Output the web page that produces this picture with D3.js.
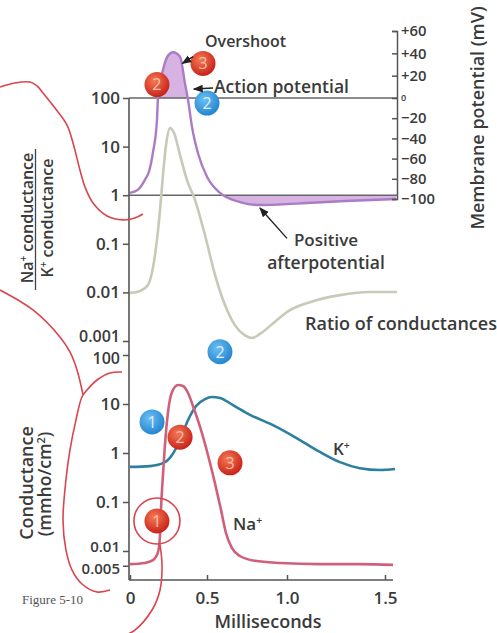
<!DOCTYPE html>
<html><head><meta charset="utf-8">
<script src="https://cdn.jsdelivr.net/npm/d3@7"></script>
<style>
html,body{margin:0;padding:0;background:#fff;}
svg{display:block;font-family:'Open Sans',sans-serif;}
</style></head><body>
<svg id="chart" width="497" height="633"></svg>
<script>
// ---------- data ----------
const xTicks = [0, 0.5, 1.0, 1.5];
const xTickLabels = ["0", "0.5", "1.0", "1.5"];
const ratioTicks = [100, 10, 1, 0.1, 0.01, 0.001];
const ratioTickLabels = ["100", "10", "1", "0.1", "0.01", "0.001"];
const condTicks = [100, 10, 1, 0.1, 0.01, 0.005];
const condTickLabels = ["100", "10", "1", "0.1", "0.01", "0.005"];
const mvTicks = [60, 40, 20, 0, -20, -40, -60, -80, -100];
const mvTickLabels = ["+60", "+40", "+20", "0", "\u221220", "\u221240", "\u221260", "\u221280", "\u2212100"];

// membrane potential (mV) vs time (ms)
const apTime = [0, 0.05, 0.097, 0.125, 0.149, 0.175, 0.182, 0.214, 0.247, 0.279, 0.325, 0.357, 0.377, 0.403, 0.442, 0.5, 0.581, 0.706, 0.831, 0.95, 1.1, 1.3, 1.556];
const apMv   = [-94, -91, -81, -72, -54, -22, 1, 25, 38, 41, 37, 13, -2, -29, -55, -78, -94, -103, -106, -105.5, -104, -102, -100];
const restingRatioLine = 1;   // baseline drawn at ratio = 1
const zeroMv = 0;

// Na+/K+ conductance ratio
const ratioTime   = [0, 0.065, 0.117, 0.149, 0.175, 0.195, 0.214, 0.234, 0.26, 0.286, 0.325, 0.37, 0.422, 0.487, 0.55, 0.6125, 0.675, 0.7375, 0.78, 0.831, 0.925, 1.015, 1.117, 1.27, 1.423, 1.561];
const ratioValues = [0.0097, 0.0107, 0.0142, 0.032, 0.12, 0.5, 2.6, 10.8, 24, 19, 6.7, 2.05, 0.8, 0.15, 0.023, 0.0055, 0.0021, 0.0013, 0.00115, 0.0014, 0.0025, 0.0043, 0.0063, 0.0088, 0.0102, 0.0102];

// K+ conductance (mmho/cm2)
const kTime   = [0, 0.13, 0.227, 0.273, 0.325, 0.377, 0.429, 0.487, 0.531, 0.581, 0.6625, 0.769, 0.9125, 1.066, 1.168, 1.27, 1.372, 1.474, 1.551];
const kValues = [0.52, 0.54, 0.65, 0.91, 1.84, 4.7, 9.1, 12.6, 13.9, 13.3, 9.5, 6.0, 3.7, 1.84, 1.05, 0.65, 0.49, 0.45, 0.47];

// Na+ conductance (mmho/cm2)
const naTime   = [0, 0.097, 0.149, 0.182, 0.195, 0.201, 0.214, 0.227, 0.247, 0.273, 0.312, 0.344, 0.377, 0.409, 0.455, 0.506, 0.55, 0.5875, 0.619, 0.656, 0.706, 0.8, 0.956, 1.168, 1.372, 1.541];
const naValues = [0.0054, 0.0057, 0.0065, 0.0095, 0.0212, 0.069, 0.356, 1.46, 6.9, 17.6, 24.4, 23.3, 16.8, 9.1, 3.4, 0.91, 0.24, 0.069, 0.023, 0.0115, 0.0079, 0.0063, 0.0057, 0.0054, 0.0054, 0.0052];

// numbered markers
const markerLabels = ["3", "2", "2", "2", "1", "2", "3", "1"];
const markerColors = ["red", "red", "blue", "blue", "blue", "red", "red", "red"];
const markerPanels = ["mv", "mv", "mv", "ratio", "cond", "cond", "cond", "cond"];
const markerTimes  = [0.474, 0.175, 0.5, 0.581, 0.143, 0.325, 0.644, 0.175];
const markerValues = [31, 12, -5, 0.0006, 4.3, 2.1, 0.63, 0.041];

// hand-drawn red annotation strokes (time in ms, value on panel scale)
const annot1Time  = [-0.844, -0.747, -0.649, -0.604, -0.565, -0.487, -0.409, -0.37, -0.325, -0.292, -0.24, -0.149, -0.045, 0.032, 0.084];
const annot1Ratio = [168, 204, 213, 177, 127, 62, 27.8, 11.9, 3.3, 1.47, 0.69, 0.373, 0.31, 0.34, 0.41];
const annot2Time  = [-0.844, -0.63, -0.455, -0.39, -0.344, -0.305];
const annot2Ratio = [0.0112, 0.00435, 0.00121, 0.000594, 0.000253, 0.0000776];
const loopTime = [-0.052, -0.13, -0.214, -0.279, -0.312, -0.351, -0.39, -0.416, -0.435, -0.416, -0.377, -0.312, -0.214, -0.13];
const loopCond = [45, 43, 30.9, 19.3, 13.9, 4.7, 1.15, 0.281, 0.043, 0.0105, 0.0041, 0.00212, 0.00146, 0.0016];
const tailTime = [0.195, 0.208, 0.195, 0.143, 0.032, -0.045];
const tailCond = [0.0133, 0.00518, 0.0016, 0.000625, 0.000244, 0.000184];

// ---------- scales ----------
const svg = d3.select("#chart");
const x = d3.scaleLinear().domain([0, 0.5, 1.0, 1.5]).range([130, 207, 287, 385]);
const yRatio = d3.scaleLog().domain([0.001, 100]).range([341, 98]);
const yCond = d3.scaleLog().domain([0.01, 100]).range([551, 355]);
const yMv = d3.scaleLinear().domain([-100, 0, 60]).range([199, 98, 31]);
const scaleFor = {mv: yMv, ratio: yRatio, cond: yCond};

const TXT = "#3a3a3a";
const AX = "#555";
const baseY = yRatio(restingRatioLine);
const zeroY = yMv(zeroMv);

const defs = svg.append("defs");
defs.append("clipPath").attr("id", "clipAbove").append("rect")
  .attr("x", 0).attr("y", 0).attr("width", 497).attr("height", zeroY);
defs.append("clipPath").attr("id", "clipBelow").append("rect")
  .attr("x", 0).attr("y", baseY).attr("width", 497).attr("height", 100);
const gr = defs.append("radialGradient").attr("id", "gRed").attr("cx", "40%").attr("cy", "35%").attr("r", "65%");
gr.append("stop").attr("offset", "0%").attr("stop-color", "#f57a55");
gr.append("stop").attr("offset", "100%").attr("stop-color", "#c9231a");
const gb = defs.append("radialGradient").attr("id", "gBlue").attr("cx", "40%").attr("cy", "35%").attr("r", "65%");
gb.append("stop").attr("offset", "0%").attr("stop-color", "#6cc0f2");
gb.append("stop").attr("offset", "100%").attr("stop-color", "#2585d2");

// ---------- membrane potential fills ----------
const apData = apTime.map((t, i) => ({t, v: apMv[i]}));
const curve = d3.curveMonotoneX;
svg.append("path").datum(apData)
  .attr("clip-path", "url(#clipAbove)")
  .attr("fill", "#d7b3e4")
  .attr("d", d3.area().curve(curve).x(d => x(d.t)).y0(zeroY).y1(d => yMv(d.v)));
svg.append("path").datum(apData)
  .attr("clip-path", "url(#clipBelow)")
  .attr("fill", "#d7b3e4")
  .attr("d", d3.area().curve(curve).x(d => x(d.t)).y0(baseY).y1(d => yMv(d.v)));

// horizontal reference lines
svg.append("line").attr("x1", 129).attr("x2", 397).attr("y1", zeroY).attr("y2", zeroY)
  .attr("stroke", "#666").attr("stroke-width", 1.6);
svg.append("line").attr("x1", 129).attr("x2", 397).attr("y1", baseY).attr("y2", baseY)
  .attr("stroke", "#666").attr("stroke-width", 1.6);

// ratio curve
svg.append("path").datum(ratioTime.map((t, i) => ({t, v: ratioValues[i]})))
  .attr("fill", "none").attr("stroke", "#c6cab6").attr("stroke-width", 2.6)
  .attr("d", d3.line().curve(curve).x(d => x(d.t)).y(d => yRatio(d.v)));

// membrane potential curve
svg.append("path").datum(apData)
  .attr("fill", "none").attr("stroke", "#ab7bc4").attr("stroke-width", 2.4)
  .attr("d", d3.line().curve(curve).x(d => x(d.t)).y(d => yMv(d.v)));

// K+ and Na+ conductances
svg.append("path").datum(kTime.map((t, i) => ({t, v: kValues[i]})))
  .attr("fill", "none").attr("stroke", "#2c7f9e").attr("stroke-width", 2.6)
  .attr("d", d3.line().curve(curve).x(d => x(d.t)).y(d => yCond(d.v)));
svg.append("path").datum(naTime.map((t, i) => ({t, v: naValues[i]})))
  .attr("fill", "none").attr("stroke", "#d06079").attr("stroke-width", 2.6)
  .attr("d", d3.line().curve(curve).x(d => x(d.t)).y(d => yCond(d.v)));

// ---------- axes ----------
function styleAxis(g, fs) {
  g.selectAll(".tick line").attr("stroke", AX).attr("stroke-width", 1.5);
  g.selectAll(".tick text").attr("fill", TXT).attr("font-size", fs).attr("font-weight", 600)
    .attr("font-family", "'Open Sans',sans-serif");
}
const gRatio = svg.append("g").attr("transform", "translate(129,0)")
  .call(d3.axisLeft(yRatio).tickValues(ratioTicks).tickFormat((d, i) => ratioTickLabels[i]).tickSize(6).tickPadding(3));
gRatio.select(".domain").remove();
styleAxis(gRatio, 17);
gRatio.selectAll(".tick text").filter(d => d === 0.001).attr("dy", "0.02em").attr("font-size", 16);

const gCond = svg.append("g").attr("transform", "translate(129,0)")
  .call(d3.axisLeft(yCond).tickValues(condTicks).tickFormat((d, i) => condTickLabels[i]).tickSize(6).tickPadding(3));
gCond.select(".domain").remove();
styleAxis(gCond, 17);
gCond.selectAll(".tick text").filter(d => d === 100).attr("dy", "0.5em").attr("font-size", 16);
gCond.selectAll(".tick text").filter(d => d === 0.01).attr("dy", "0.05em").attr("font-size", 15);
gCond.selectAll(".tick text").filter(d => d === 0.005).attr("dy", "0.5em").attr("font-size", 15);

svg.append("line").attr("x1", 129).attr("x2", 129).attr("y1", yRatio(100)).attr("y2", 580)
  .attr("stroke", AX).attr("stroke-width", 1.6);

const gX = svg.append("g").attr("transform", "translate(0,580)")
  .call(d3.axisBottom(x).tickValues(xTicks).tickFormat((d, i) => xTickLabels[i]).tickSizeInner(-5).tickSizeOuter(0).tickPadding(12));
gX.select(".domain").remove();
styleAxis(gX, 17);
svg.append("line").attr("x1", 129).attr("x2", 393).attr("y1", 580).attr("y2", 580)
  .attr("stroke", AX).attr("stroke-width", 1.6);

const gMv = svg.append("g").attr("transform", "translate(397,0)")
  .call(d3.axisRight(yMv).tickValues(mvTicks).tickFormat((d, i) => mvTickLabels[i]).tickSizeInner(-5).tickSizeOuter(-5).tickPadding(4));
gMv.select(".domain").attr("stroke", AX).attr("stroke-width", 1.5).attr("fill", "none");
styleAxis(gMv, 14.8);
gMv.selectAll(".tick text").filter(d => d === 0).attr("font-size", 9);

// ---------- red hand annotations ----------
const redInk = "#d8454f";
function stroke(ts, vs, sc) {
  svg.append("path").datum(ts.map((t, i) => ({t, v: vs[i]})))
    .attr("fill", "none").attr("stroke", redInk).attr("stroke-width", 1.6)
    .attr("d", d3.line().curve(d3.curveCatmullRom).x(d => x(d.t)).y(d => sc(d.v)));
}
stroke(annot1Time, annot1Ratio, yRatio);
stroke(annot2Time, annot2Ratio, yRatio);
stroke(loopTime, loopCond, yCond);
stroke(tailTime, tailCond, yCond);

// ---------- markers ----------
markerLabels.forEach((lab, i) => {
  const cx = x(markerTimes[i]), cy = scaleFor[markerPanels[i]](markerValues[i]);
  const isRed = markerColors[i] === "red";
  svg.append("circle").attr("cx", cx).attr("cy", cy).attr("r", 12.5)
    .attr("fill", isRed ? "url(#gRed)" : "url(#gBlue)");
  svg.append("text").attr("x", cx).attr("y", cy).attr("dy", "0.36em").attr("text-anchor", "middle")
    .attr("font-size", 16).attr("fill", isRed ? "#f7c2a8" : "#dff0fb").text(lab);
});
// ring around red marker 1
svg.append("circle").attr("cx", x(markerTimes[7])).attr("cy", yCond(markerValues[7])).attr("r", 23)
  .attr("fill", "none").attr("stroke", redInk).attr("stroke-width", 1.6);

// ---------- arrows ----------
defs.append("marker").attr("id", "arr").attr("viewBox", "0 0 10 10").attr("refX", 9).attr("refY", 5)
  .attr("markerWidth", 7).attr("markerHeight", 7).attr("orient", "auto")
  .append("path").attr("d", "M0,1 L10,5 L0,9 Z").attr("fill", "#222");
function arrow(t1, v1, t2, v2) {
  svg.append("line").attr("x1", x(t1)).attr("y1", yMv(v1)).attr("x2", x(t2)).attr("y2", yMv(v2))
    .attr("stroke", "#222").attr("stroke-width", 1.4).attr("marker-end", "url(#arr)");
}
arrow(0.41, 37, 0.34, 31);
arrow(0.5375, 9, 0.415, 8);
arrow(1.0, -139, 0.831, -109);

// ---------- texts ----------
function label(txt, xx, yy, fs, opts = {}) {
  const t = svg.append("text").attr("x", xx).attr("y", yy).attr("font-size", fs)
    .attr("font-weight", opts.weight || 600).attr("fill", opts.fill || TXT)
    .attr("text-anchor", opts.anchor || "start");
  if (opts.family) t.attr("font-family", opts.family);
  t.text(txt);
  return t;
}
label("Overshoot", 205, 47, 16);
label("Action potential", 214, 93, 17.5);
label("Positive", 326, 246, 17, {anchor: "middle"});
label("afterpotential", 326, 269, 17.5, {anchor: "middle"});
label("Ratio of conductances", 305, 330, 18);
label("Milliseconds", 268, 628, 18, {anchor: "middle"});
label("Figure 5-10", 22, 604, 13, {weight: 400, fill: "#555", family: "'Liberation Serif',serif"});

function supText(parts, xx, yy, fs, rotate, anchor) {
  const t = svg.append("text").attr("font-size", fs).attr("font-weight", 600).attr("fill", TXT)
    .attr("text-anchor", anchor || "start")
    .attr("transform", `translate(${xx},${yy})` + (rotate ? ` rotate(${rotate})` : ""));
  parts.forEach(p => {
    const s = t.append("tspan").text(p.t);
    if (p.sup) s.attr("dy", -6).attr("font-size", fs * 0.62);
    if (p.after) s.attr("dy", 6);
  });
  return t;
}
supText([{t: "K"}, {t: "+", sup: true}], 333, 455, 17);
supText([{t: "Na"}, {t: "+", sup: true}], 233, 530, 17);
supText([{t: "Na"}, {t: "+", sup: true}, {t: " conductance", after: true}], 33, 218, 16, -90, "middle");
supText([{t: "K"}, {t: "+", sup: true}, {t: " conductance", after: true}], 53, 218, 16, -90, "middle");
svg.append("line").attr("x1", 35.5).attr("x2", 35.5).attr("y1", 149).attr("y2", 290)
  .attr("stroke", "#444").attr("stroke-width", 1.3);
supText([{t: "Conductance"}], 33, 483, 18, -90, "middle");
supText([{t: "(mmho/cm"}, {t: "2", sup: true}, {t: ")", after: true}], 51, 484, 17.5, -90, "middle");
supText([{t: "Membrane potential (mV)"}], 484, 118, 18, -90, "middle");
</script>
</body></html>
